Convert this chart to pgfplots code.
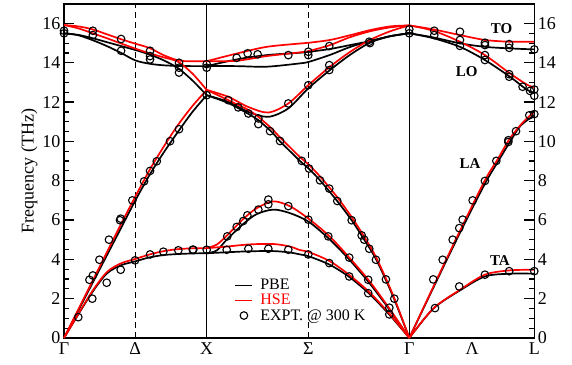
\documentclass[border=0pt]{standalone}
\usepackage{fontspec}
\setmainfont{Liberation Serif}
\usepackage{pgfplots}
\pgfplotsset{compat=1.18}
\pgfplotsset{
  pbe/.style={black, line width=1.7pt, smooth, tension=0.5, no markers, forget plot},
  hse/.style={red, line width=1.7pt, smooth, tension=0.5, no markers, forget plot},
  expt/.style={only marks, mark=o, mark size=3.8pt, black, line width=1.1pt, forget plot},
  vline/.style={black, line width=1.1pt, no markers, forget plot},
  dline/.style={black, line width=1.1pt, dashed, dash pattern=on 6pt off 4pt, no markers, forget plot},
}
\begin{document}
\begin{tikzpicture}
\begin{axis}[
  scale only axis, width=470pt, height=334pt,
  xmin=0, xmax=3.296, ymin=0, ymax=17,
  axis line style={line width=1.5pt},
  xtick={0,0.498,1,1.712,2.42,2.86,3.296},
  xticklabels={Γ,Δ,X,Σ,Γ,Λ,L},
  major x tick style={draw=none},
  ytick={0,2,...,16}, minor y tick num=3,
  ytick pos=left, tick align=inside,
  major tick length=10pt, minor tick length=5pt,
  every tick/.style={black, line width=1.2pt},
  /pgf/number format/assume math mode=true,
  ticklabel style={font=\fontsize{18}{18}\selectfont},
  xticklabel style={font=\fontsize{18}{18}\selectfont, yshift=-1pt},
  ylabel={Frequency (THz)},
  ylabel style={font=\fontsize{18}{18}\selectfont, yshift=-2pt},
  clip=false,
  legend style={draw=none, fill=none, at={(0.36,0.185)}, anchor=north west,
    font=\fontsize{16}{16}\selectfont, row sep=-1pt, inner sep=1pt,
    /tikz/every odd column/.append style={column sep=5pt}},
  legend cell align=left,
]
\coordinate (sw) at (rel axis cs:0,0);
\coordinate (ne) at (rel axis cs:1,1);
% vertical lines
\addplot[dline] coordinates {(0.498,0) (0.498,17)};
\addplot[dline] coordinates {(1.712,0) (1.712,17)};
\addplot[vline] coordinates {(1,0) (1,17)};
\addplot[vline] coordinates {(2.42,0) (2.42,17)};

% ===== PBE =====
% Gamma-X
\addplot[pbe] coordinates {(0,0) (0.1,1.2) (0.2,2.35) (0.3,3.28) (0.4,3.7) (0.5,3.9) (0.6,4.1) (0.7,4.22) (0.8,4.27) (0.9,4.3) (1,4.31)};
\addplot[pbe] coordinates {(0,0) (0.1,1.4) (0.2,2.8) (0.3,4.2) (0.4,5.6) (0.5,7.0) (0.6,8.3) (0.7,9.45) (0.8,10.5) (0.9,11.5) (1,12.35)};
\addplot[pbe] coordinates {(0,15.5) (0.1,15.42) (0.2,15.25) (0.3,15.05) (0.4,14.85) (0.5,14.65) (0.6,14.42) (0.7,14.12) (0.8,13.72) (0.9,13.1) (1,12.35)};
\addplot[pbe] coordinates {(0,15.5) (0.1,15.4) (0.2,15.15) (0.3,14.85) (0.4,14.5) (0.5,14.12) (0.6,13.95) (0.7,13.87) (0.8,13.84) (0.9,13.83) (1,13.83)};
% X-Gamma
\addplot[pbe] coordinates {(1,4.31) (1.14,4.36) (1.3,4.41) (1.467,4.42) (1.584,4.35) (1.654,4.25) (1.717,4.15) (1.864,3.72) (2.004,3.08) (2.144,2.22) (2.285,1.15) (2.42,0)};
\addplot[pbe] coordinates {(1,4.31) (1.07,4.45) (1.14,5.0) (1.256,5.8) (1.35,6.3) (1.467,6.53) (1.584,6.35) (1.717,5.9) (1.864,5.0) (2.004,3.95) (2.144,2.76) (2.285,1.4) (2.42,0)};
\addplot[pbe] coordinates {(1,12.35) (1.151,11.95) (1.292,11.4) (1.362,11.08) (1.456,10.48) (1.514,10.0) (1.584,9.5) (1.654,9.0) (1.717,8.6) (1.794,8.02) (1.911,7.0) (2.016,5.99) (2.104,5.0) (2.191,3.95) (2.308,2.08) (2.42,0)};
\addplot[pbe] coordinates {(1,12.35) (1.151,12.01) (1.292,11.5) (1.432,11.25) (1.572,11.68) (1.712,12.7) (1.864,13.63) (2.004,14.4) (2.144,15.02) (2.285,15.35) (2.42,15.5)};
\addplot[pbe] coordinates {(1,13.83) (1.21,13.83) (1.42,13.8) (1.654,13.97) (1.717,14.05) (1.864,14.4) (2.004,14.8) (2.144,15.1) (2.285,15.35) (2.42,15.5)};
\addplot[pbe] coordinates {(1,13.83) (1.21,14.17) (1.42,14.39) (1.654,14.51) (1.717,14.56) (1.864,14.7) (2.004,14.9) (2.144,15.1) (2.285,15.35) (2.42,15.5)};
% Gamma-L
\addplot[pbe] coordinates {(2.42,0) (2.588,1.49) (2.775,2.42) (2.95,3.13) (3.125,3.27) (3.296,3.27)};
\addplot[pbe] coordinates {(2.42,0) (2.588,2.55) (2.775,5.35) (2.95,7.85) (3.04,8.95) (3.125,9.97) (3.2,10.8) (3.296,11.33)};
\addplot[pbe] coordinates {(2.42,15.5) (2.588,15.25) (2.775,14.81) (2.95,14.14) (3.125,13.29) (3.242,12.64) (3.296,12.47)};
\addplot[pbe] coordinates {(2.42,15.5) (2.588,15.29) (2.775,14.99) (2.95,14.81) (3.125,14.73) (3.296,14.68)};

% ===== HSE =====
\addplot[hse] coordinates {(0,0) (0.1,1.22) (0.2,2.4) (0.3,3.35) (0.4,3.8) (0.5,4.02) (0.6,4.25) (0.7,4.42) (0.8,4.52) (0.9,4.56) (1,4.57)};
\addplot[hse] coordinates {(0,0) (0.1,1.45) (0.2,2.9) (0.3,4.35) (0.4,5.8) (0.5,7.2) (0.6,8.55) (0.7,9.75) (0.8,10.85) (0.9,11.8) (1,12.62)};
\addplot[hse] coordinates {(0,15.92) (0.1,15.75) (0.2,15.5) (0.3,15.25) (0.4,14.98) (0.5,14.72) (0.6,14.48) (0.7,14.27) (0.8,14.05) (0.9,13.45) (1,12.62)};
\addplot[hse] coordinates {(0,15.92) (0.1,15.85) (0.2,15.7) (0.3,15.45) (0.4,15.2) (0.5,14.97) (0.6,14.75) (0.7,14.38) (0.8,14.12) (0.85,14.08) (1,14.08)};
\addplot[hse] coordinates {(1,4.57) (1.14,4.65) (1.3,4.76) (1.467,4.78) (1.584,4.65) (1.654,4.47) (1.717,4.37) (1.864,3.9) (2.004,3.18) (2.144,2.3) (2.285,1.2) (2.42,0)};
\addplot[hse] coordinates {(1,4.57) (1.07,4.75) (1.14,5.2) (1.256,6.05) (1.35,6.6) (1.467,6.95) (1.584,6.7) (1.717,6.05) (1.864,5.15) (2.004,4.05) (2.144,2.86) (2.285,1.45) (2.42,0)};
\addplot[hse] coordinates {(1,12.62) (1.151,12.1) (1.292,11.6) (1.362,11.25) (1.456,10.65) (1.514,10.2) (1.584,9.7) (1.654,9.2) (1.717,8.8) (1.794,8.22) (1.911,7.2) (2.016,6.15) (2.104,5.15) (2.191,4.05) (2.308,2.15) (2.42,0)};
\addplot[hse] coordinates {(1,12.62) (1.151,12.27) (1.292,11.75) (1.432,11.47) (1.572,11.93) (1.712,12.86) (1.864,13.8) (2.004,14.55) (2.144,15.16) (2.285,15.6) (2.42,15.9)};
\addplot[hse] coordinates {(1,14.08) (1.21,14.1) (1.42,14.34) (1.654,14.53) (1.717,14.6) (1.864,14.9) (2.004,15.3) (2.144,15.6) (2.285,15.8) (2.42,15.9)};
\addplot[hse] coordinates {(1,14.08) (1.21,14.47) (1.42,14.81) (1.654,14.98) (1.717,15.02) (1.864,15.16) (2.004,15.4) (2.144,15.66) (2.285,15.85) (2.42,15.9)};
\addplot[hse] coordinates {(2.42,0) (2.588,1.5) (2.775,2.45) (2.95,3.22) (3.125,3.44) (3.296,3.47)};
\addplot[hse] coordinates {(2.42,0) (2.588,2.6) (2.775,5.45) (2.95,8.02) (3.04,9.1) (3.125,10.15) (3.219,10.99) (3.296,11.5)};
\addplot[hse] coordinates {(2.42,15.9) (2.588,15.63) (2.775,15.07) (2.95,14.39) (3.125,13.46) (3.242,12.9) (3.296,12.74)};
\addplot[hse] coordinates {(2.42,15.9) (2.588,15.7) (2.775,15.41) (2.95,15.16) (3.125,15.07) (3.296,15.07)};

% ===== Experiment =====
\addplot[expt] coordinates {
(0,15.63) (0,15.5) (0.202,15.63) (0.202,15.41) (0.4,15.21) (0.4,14.61) (0.603,14.61) (0.603,14.34) (0.603,14.17) (0.806,14.0) (0.806,13.75) (0.806,13.5)
(0.806,10.62) (0.743,10.01) (0.650,8.99) (0.603,8.5) (0.561,7.97) (0.479,7.0) (0.397,6.07) (0.392,5.99) (0.315,5.0) (0.248,3.98) (0.202,3.18) (0.178,2.96)
(0.1,1.06) (0.198,2.0) (0.299,2.81) (0.397,3.47) (0.498,3.95) (0.603,4.25) (0.696,4.39) (0.801,4.46) (0.902,4.49)
(0.906,4.49) (1.0,4.49) (1.14,4.49) (1.292,4.54) (1.432,4.54) (1.572,4.49) (1.712,4.25) (1.859,3.81) (1.999,3.13) (2.132,2.28) (2.28,1.2)
(1.144,5.17) (1.21,5.65) (1.256,5.95) (1.285,6.24) (1.362,6.53) (1.432,6.8) (1.432,7.04) (1.572,6.71) (1.712,6.02) (1.852,5.17) (1.999,4.09) (2.132,2.96) (2.28,1.54)
(1.794,8.02) (1.859,7.6) (1.915,6.97) (2.016,5.99) (2.086,5.22) (2.104,5.0) (2.139,4.54) (2.186,3.98) (2.256,2.98) (2.315,2.0)
(1.0,12.35) (1.151,12.1) (1.221,11.73) (1.292,11.42) (1.362,11.17) (1.362,10.88) (1.572,11.93) (1.712,12.86) (1.859,13.88) (1.859,13.63) (2.139,15.07) (2.144,15.0) (2.42,15.7) (2.42,15.5)
(1.444,10.52) (1.514,10.02) (1.666,9.01) (1.717,8.62)
(1.0,13.93) (1.0,13.75) (1.21,14.25) (1.287,14.48) (1.357,14.43) (1.572,14.39) (1.712,14.56) (1.712,14.39) (1.859,14.85)
(2.595,15.63) (2.595,15.41) (2.775,15.58) (2.775,15.16) (2.775,14.86) (2.95,15.02) (2.95,14.9) (2.95,14.39) (2.95,14.14) (3.12,14.95) (3.12,14.76) (3.12,13.42) (3.12,13.29) (3.214,12.78) (3.266,12.57) (3.296,14.68) (3.296,12.64) (3.296,12.32)
(3.296,11.39) (3.261,11.33) (3.168,10.52) (3.114,10.06) (3.114,9.97) (3.03,9.01) (2.95,7.99) (2.864,7.0) (2.794,6.02) (2.77,5.59) (2.724,5.0) (2.654,3.98) (2.588,2.98)
(2.6,1.52) (2.77,2.62) (2.95,3.22) (3.12,3.4) (3.296,3.4)
};

% branch labels
\node[font=\fontsize{15}{15}\selectfont\bfseries] at (axis cs:3.067,15.75) {TO};
\node[font=\fontsize{15}{15}\selectfont\bfseries] at (axis cs:2.822,13.54) {LO};
\node[font=\fontsize{15}{15}\selectfont\bfseries] at (axis cs:2.845,8.87) {LA};
\node[font=\fontsize{15}{15}\selectfont\bfseries] at (axis cs:3.055,3.95) {TA};

% legend
\addlegendimage{black, line width=1.7pt}
\addlegendentry{PBE}
\addlegendimage{red, line width=1.7pt}
\addlegendentry{\textcolor{red}{HSE}}
\addlegendimage{only marks, mark=o, mark size=3.8pt, black, line width=1.1pt}
\addlegendentry{EXPT. @ 300 K}
\end{axis}
\begin{axis}[
  scale only axis, width=470pt, height=334pt,
  xmin=0, xmax=3.296, ymin=0, ymax=17,
  axis y line*=right, axis x line=none,
  axis line style={line width=1.5pt},
  ytick={0,2,...,16}, minor y tick num=3,
  tick align=inside,
  major tick length=10pt, minor tick length=5pt,
  every tick/.style={black, line width=1.2pt},
  /pgf/number format/assume math mode=true,
  ticklabel style={font=\fontsize{18}{18}\selectfont},
]
\addplot[draw=none, forget plot] coordinates {(0,0)};
\end{axis}
\pgfresetboundingbox
\path[use as bounding box] ([shift={(-64pt,-26.5pt)}]sw) rectangle ([shift={(37.7pt,3.8pt)}]ne);
\end{tikzpicture}
\end{document}
